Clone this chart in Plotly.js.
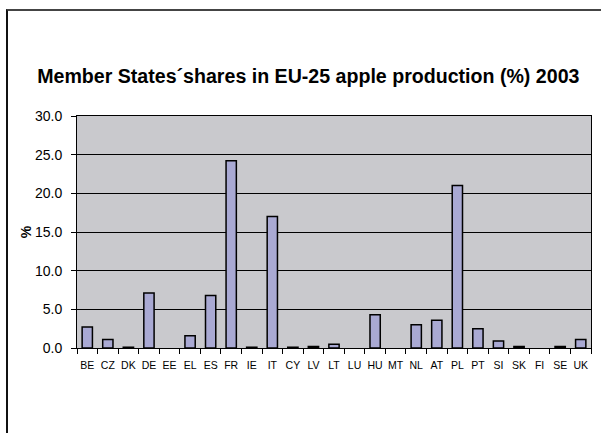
<!DOCTYPE html>
<html>
<head>
<meta charset="utf-8">
<script src="https://cdn.plot.ly/plotly-3.0.1.min.js"></script>
<style>
  html, body { margin: 0; padding: 0; background: #fff; }
  #wrap { position: relative; width: 601px; height: 433px; overflow: hidden; }
  #chart { width: 601px; height: 433px; }
  #frame { position: absolute; left: 6px; top: 9px; width: 700px; height: 600px;
           border-left: 2px solid #111; border-top: 2px solid #444; pointer-events: none; }
</style>
</head>
<body>
<div id="wrap">
  <div id="chart"></div>
  <div id="frame"></div>
</div>
<script>
const countries = ["BE","CZ","DK","DE","EE","EL","ES","FR","IE","IT","CY","LV","LT","LU","HU","MT","NL","AT","PL","PT","SI","SK","FI","SE","UK"];
const shares = [2.7, 1.1, 0.1, 7.1, 0.0, 1.6, 6.8, 24.2, 0.1, 17.0, 0.1, 0.2, 0.5, 0.0, 4.3, 0.0, 3.0, 3.6, 21.0, 2.5, 0.9, 0.2, 0.0, 0.2, 1.1];
const yTicks = [0, 5, 10, 15, 20, 25, 30];
const chartTitle = "Member States\u00b4shares in EU-25 apple production (%) 2003";

const trace = {
  type: "bar",
  x: countries,
  y: shares,
  marker: {
    color: "#A9A9D3",
    line: { color: "#000", width: shares.map(v => (v > 0 ? 1.5 : 0)) }
  },
  hoverinfo: "x+y"
};

const layout = {
  width: 601, height: 433,
  paper_bgcolor: "#ffffff",
  plot_bgcolor: "#C9C9CD",
  margin: { l: 77, r: 10, t: 116, b: 85, pad: 0 },
  bargap: 0.5,
  showlegend: false,
  title: {
    text: "<b>" + chartTitle + "</b>",
    font: { family: "Liberation Sans, Arial, sans-serif", size: 19.6, color: "#000" },
    xref: "container", yref: "container",
    x: 0.513, y: 1 - 76 / 433, xanchor: "center", yanchor: "middle"
  },
  font: { family: "Liberation Sans, Arial, sans-serif", color: "#000" },
  xaxis: {
    type: "category",
    tickson: "boundaries",
    ticks: "outside", ticklen: 5, tickwidth: 1, tickcolor: "#000",
    showline: true, linecolor: "#000", linewidth: 1, mirror: true,
    showgrid: false,
    tickfont: { size: 10.5, color: "#000" },
    ticklabelstandoff: 7,
    tickangle: 0
  },
  yaxis: {
    range: [0, 30],
    tickvals: yTicks,
    tickformat: ".1f",
    ticks: "outside", ticklen: 5, tickwidth: 1, tickcolor: "#000",
    showline: true, linecolor: "#000", linewidth: 1, mirror: true,
    showgrid: true, gridcolor: "#000", gridwidth: 1,
    zeroline: false,
    tickfont: { size: 14, color: "#000" },
    ticklabelstandoff: 6,
    title: { text: "<b>%</b>", font: { size: 14, color: "#000" }, standoff: 0 }
  }
};

Plotly.newPlot("chart", [trace], layout, { displayModeBar: false, staticPlot: true });
</script>
</body>
</html>
